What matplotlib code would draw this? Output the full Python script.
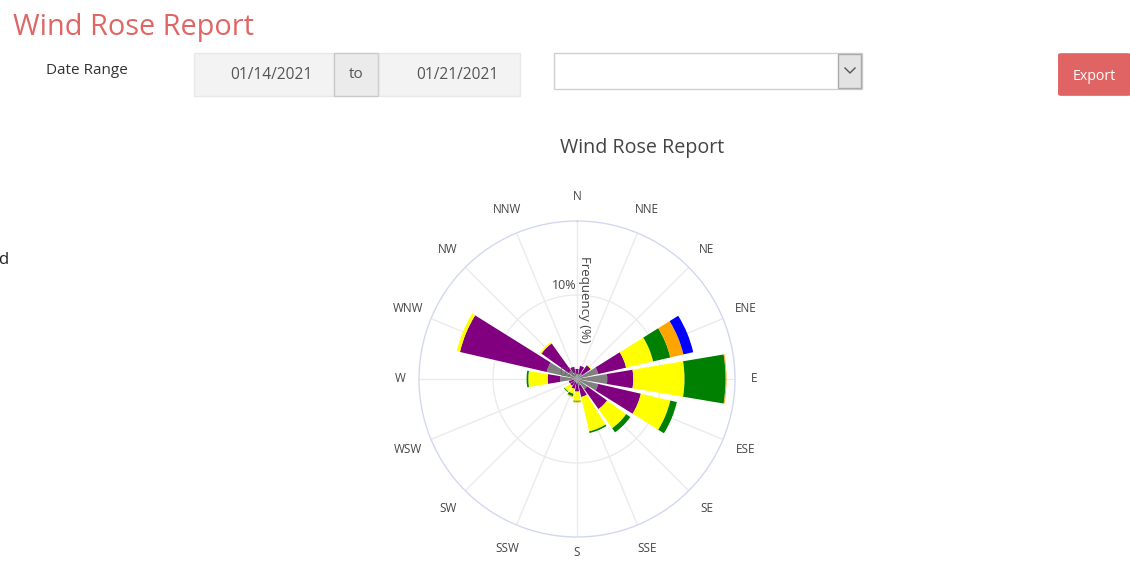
import numpy as np
import matplotlib
matplotlib.use("Agg")
from matplotlib import pyplot as plt
from matplotlib.patches import Rectangle, FancyBboxPatch
from matplotlib.lines import Line2D

plt.rcParams['font.family'] = ['Open Sans', 'DejaVu Sans']

# data (frequency % per speed bin, per direction)
directions = ["N", "NNE", "NE", "ENE", "E", "ESE", "SE", "SSE",
              "S", "SSW", "SW", "WSW", "W", "WNW", "NW", "NNW"]
gray_bin   = [0.6, 0.6, 0.8, 2.6, 3.6, 2.6, 1.5, 0.8, 0.5, 0.4, 0.4, 0.4, 2.0, 3.7, 1.2, 0.8]
purple_bin = [0.6, 1.0, 1.2, 3.4, 3.1, 5.2, 2.9, 1.4, 1.0, 0.8, 0.6, 0.6, 1.5, 10.6, 4.0, 0.7]
yellow_bin = [0.0, 0.0, 0.1, 3.3, 6.1, 3.6, 2.8, 4.2, 1.1, 0.6, 0.8, 0.0, 2.3, 0.4, 0.2, 0.0]
green_bin  = [0.0, 0.0, 0.0, 2.1, 4.9, 0.8, 0.6, 0.2, 0.1, 0.3, 0.1, 0.0, 0.2, 0.0, 0.0, 0.0]
orange_bin = [0.0, 0.0, 0.0, 1.6, 0.1, 0.0, 0.0, 0.0, 0.1, 0.1, 0.0, 0.0, 0.0, 0.0, 0.0, 0.0]
blue_bin   = [0.0, 0.0, 0.0, 1.2, 0.0, 0.0, 0.0, 0.0, 0.0, 0.0, 0.0, 0.0, 0.0, 0.0, 0.0, 0.0]
series = [gray_bin, purple_bin, yellow_bin, green_bin, orange_bin, blue_bin]
colors = ["#808080", "#800080", "#ffff00", "#008000", "#ffa500", "#0000ff"]

W, H = 1130, 561
fig = plt.figure(figsize=(W / 100, H / 100), dpi=100)

def fx(x):
    return x / W

def fy(y):
    return 1 - y / H

def box(x0, y0, x1, y1, fc, ec, lw=1):
    fig.add_artist(Rectangle((fx(x0), fy(y1)), fx(x1) - fx(x0), fy(y0) - fy(y1),
                             transform=fig.transFigure, fc=fc, ec=ec, lw=lw))

# page header
fig.text(fx(13), fy(27), "Wind Rose Report", color="#e06666", fontsize=20.8,
         ha="left", va="center")
fig.text(fx(46), fy(70), "Date Range", color="#333333", fontsize=11, va="center")
box(194, 53, 334, 96, "#f3f3f3", "#e8e8e8")
box(334, 53, 378, 96, "#ebebeb", "#c8c8c8")
box(379, 53, 520, 96, "#f3f3f3", "#e8e8e8")
fig.text(fx(271), fy(75), "01/14/2021", color="#555555", fontsize=11.2, ha="center", va="center")
fig.text(fx(356), fy(75), "to", color="#555555", fontsize=11, ha="center", va="center")
fig.text(fx(457), fy(75), "01/21/2021", color="#555555", fontsize=11.2, ha="center", va="center")

# dropdown
box(554, 53, 862, 89, "white", "#d0d0d0")
box(838, 54, 861, 88, "#e3e3e3", "#aaaaaa")
fig.add_artist(Line2D([fx(845), fx(850), fx(855)], [fy(68), fy(73), fy(68)],
                      transform=fig.transFigure, color="#555555", lw=1))

# export button
fig.add_artist(FancyBboxPatch((fx(1061), fy(94)), fx(1128) - fx(1061), fy(55) - fy(94),
                              boxstyle="round,pad=0.002", transform=fig.transFigure,
                              fc="#e06464", ec="#e06464"))
fig.text(fx(1094), fy(76), "Export", color="white", fontsize=10.2, ha="center", va="center")

# clipped text at left edge
fig.text(fx(-2), fy(260), "d", color="#222222", fontsize=12, ha="left", va="center")

# chart title
fig.text(fx(642), fy(148), "Wind Rose Report", color="#444444", fontsize=14.2,
         ha="center", va="center")

# polar chart
cx, cy, R = 577, 379, 158
ax = fig.add_axes([fx(cx - R), fy(cy + R), 2 * R / W, 2 * R / H], projection="polar")
ax.set_theta_zero_location("N")
ax.set_theta_direction(-1)
angles = np.arange(16) * 22.5
theta = np.radians(angles)
width = np.radians(19)
bottom = np.zeros(16)
for vals, c in zip(series, colors):
    vals = np.array(vals)
    ax.bar(theta, vals, width=width, bottom=bottom, color=c, lw=0, zorder=2)
    bottom = bottom + vals

ax.set_ylim(0, R / 8.4)
ax.set_rticks([10])
ax.set_yticklabels([])
ax.set_thetagrids(angles, [""] * 16)
ax.grid(color="#ebebeb", lw=1)
ax.set_axisbelow(True)
ax.spines["polar"].set_color("#d3d8f0")
ax.spines["polar"].set_linewidth(1)

# direction labels around the rose
for a, lab in zip(theta, directions):
    rl = 177 if lab in ("E", "W") else (174 if lab == "S" else 183)
    fig.text(fx(cx + rl * np.sin(a)), fy(cy - rl * np.cos(a)), lab,
             color="#444444", fontsize=8.5, ha="center", va="center")

ax.text(0, 10.4, "10%", ha="right", va="bottom", color="#444444", fontsize=9, zorder=3)
ax.text(0, 0.0, "0%", ha="right", va="bottom", color="#555555", fontsize=9, alpha=0.6, zorder=3)
fig.text(fx(585), fy(299), "Frequency (%)", rotation=-90, color="#444444", fontsize=9.5,
         ha="center", va="center")

fig.savefig("out.png", dpi=100)
